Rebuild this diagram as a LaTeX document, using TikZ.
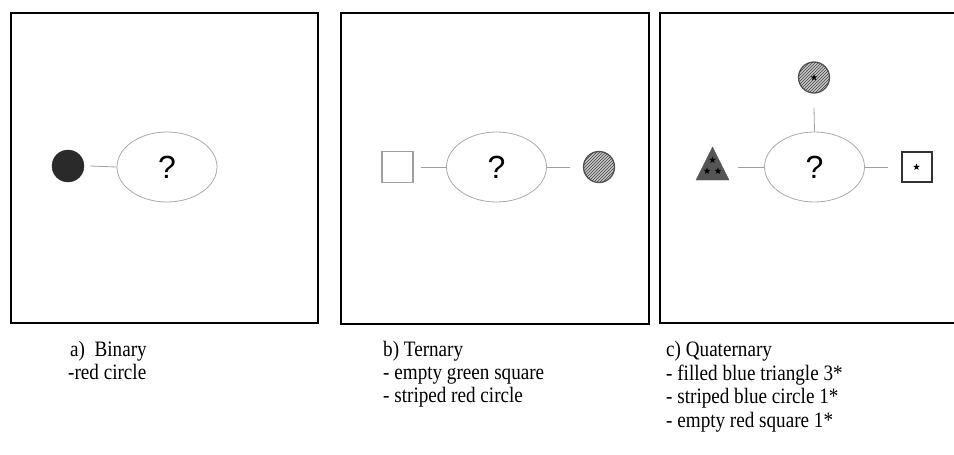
\documentclass[tikz,border=0pt]{standalone}
\usepackage{fontspec}
\setmainfont{Liberation Serif}
\newfontfamily\qfont{Liberation Sans}
\newfontfamily\capfont[FakeStretch=0.87]{Liberation Serif}
\usetikzlibrary{shapes.geometric,patterns}
\definecolor{ellgray}{HTML}{AAAAAA}
\definecolor{linegray}{HTML}{A0A0A0}
\definecolor{darkfill}{HTML}{2A2A2A}
\definecolor{trifill}{HTML}{555555}
\definecolor{hatchbg}{HTML}{C8C8C8}
\definecolor{hatchln}{HTML}{404040}
\tikzset{
  panel/.style={draw=black,line width=1.5pt},
  qell/.style={ellipse,draw=ellgray,line width=0.8pt,minimum width=100pt,minimum height=70pt,inner sep=0pt,font=\qfont\fontsize{32}{32}\selectfont},
  conn/.style={draw=linegray,line width=0.8pt},
  blackdot/.style={circle,fill=darkfill,draw=darkfill,minimum size=32pt,inner sep=0pt},
  hatchdot/.style={circle,draw=trifill,line width=1.3pt,fill=hatchbg,minimum size=31pt,inner sep=0pt,
    postaction={pattern=north east lines,pattern color=hatchln}},
  greysq/.style={rectangle,draw=linegray,line width=1.5pt,minimum size=31pt,inner sep=0pt},
  darksq/.style={rectangle,draw=black!80,line width=2pt,minimum size=30pt,inner sep=0pt},
  smallstar/.style={star,star points=5,star point ratio=2.4,fill=black,draw=none,minimum size=7pt,inner sep=0pt},
  captext/.style={anchor=base west,inner sep=0pt,font=\capfont\fontsize{22}{24}\selectfont},
}
\begin{document}
\begin{tikzpicture}[x=1pt,y=-1pt]
\useasboundingbox (0,0) rectangle (954,455);
\begin{scope}
\clip (0,0) rectangle (954,455);
% panels
\draw[panel] (11,13) rectangle (318,323);
\draw[panel] (341,13) rectangle (649,324);
\draw[panel] (660,13) rectangle (980,323);

% panel a
\node[qell] (ea) at (167,167) {?};
\node[blackdot] (ca) at (68,166) {};
\draw[conn] ([xshift=6pt]ca.east) -- (ea.west);

% panel b
\node[qell] (eb) at (496.5,167) {?};
\node[greysq] (sb) at (397.5,167) {};
\node[hatchdot] (cb) at (599,167) {};
\draw[conn] ([xshift=7pt]sb.east) -- (eb.west);
\draw[conn] (eb.east) -- ([xshift=-13pt]cb.west);

% panel c
\node[qell] (ec) at (814.5,167) {?};
\node[hatchdot] (cc) at (814,77.5) {};
\node[smallstar] (scc) at (cc.center) {};
\draw[conn] (ec.north) -- ([yshift=-14pt]cc.south);
\node[darksq] (sc) at (916.5,167) {};
\node[smallstar] (ssc) at (sc.center) {};
\draw[conn] (ec.east) -- ([xshift=-13pt]sc.west);
\draw[fill=trifill,draw=trifill] (696,180) -- (712.5,147) -- (729,180) -- cycle;
\coordinate (tc) at (738,167);
\node[smallstar] (t1) at (712.5,160) {};
\node[smallstar] (t2) at (707,171) {};
\node[smallstar] (t3) at (718,171) {};
\draw[conn] (tc) -- (ec.west);
\end{scope}

% captions
\node[captext] (a1) at (70,356) {a)\ \ Binary};
\node[captext] (a2) at (68,379) {-red circle};
\node[captext] (b1) at (383,356) {b) Ternary};
\node[captext] (b2) at (383,379) {- empty green square};
\node[captext] (b3) at (383,402) {- striped red circle};
\node[captext] (c1) at (666,356) {c) Quaternary};
\node[captext] (c2) at (666,380) {- filled blue triangle 3*};
\node[captext] (c3) at (666,403) {- striped blue circle 1*};
\node[captext] (c4) at (666,427) {- empty red square 1*};
\end{tikzpicture}
\end{document}
